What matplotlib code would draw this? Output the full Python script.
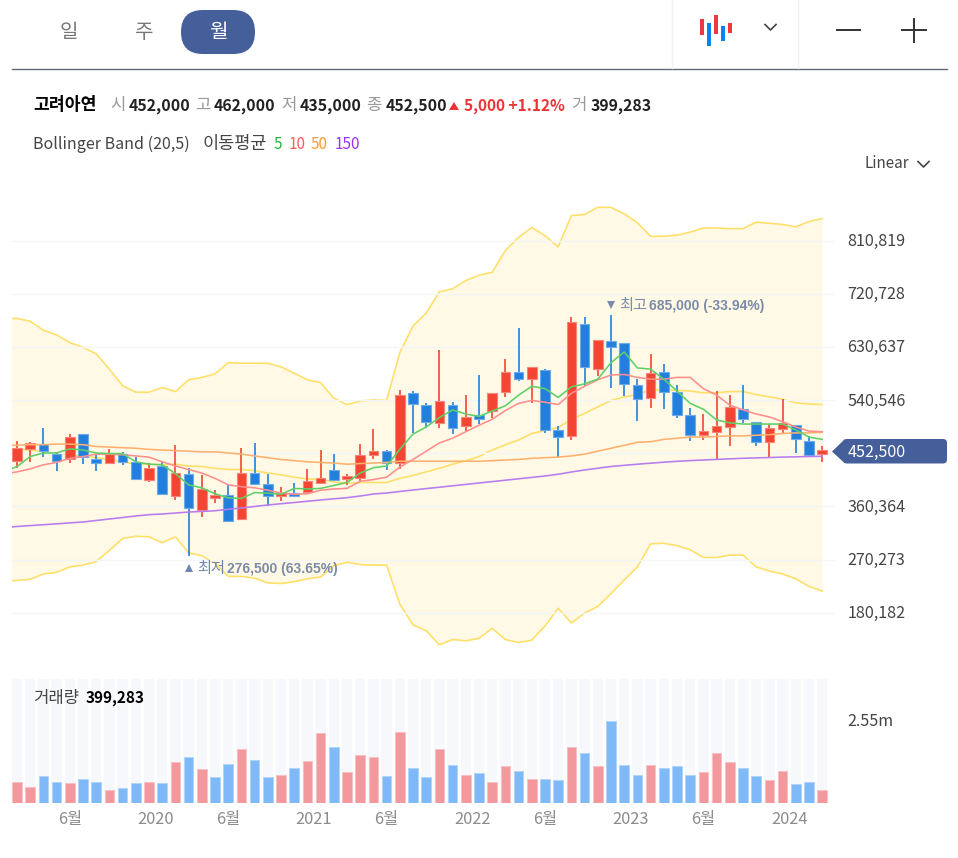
import numpy as np
import matplotlib
matplotlib.use('Agg')
import matplotlib.pyplot as plt
from matplotlib.patches import FancyBboxPatch, Polygon, Rectangle
from matplotlib.transforms import ScaledTranslation

plt.rcParams['font.family'] = ['Noto Sans CJK KR', 'DejaVu Sans']

# prices are in thousands of won
opens = [438, 457, 466, 450, 440, 483, 440, 434, 449, 435, 406, 429, 378, 415, 354, 374, 380, 340, 417, 398, 378,
         384, 385, 400, 422, 408, 408, 448, 454, 434, 552, 532, 501, 532, 497, 515, 522, 554, 588, 576, 592, 490,
         479, 669, 593, 641, 637, 566, 544, 588, 555, 515, 482, 487, 495, 525, 503, 470, 492, 498, 471, 452]
highs = [471, 470, 493, 452, 483, 483, 450, 457, 452, 444, 434, 437, 465, 426, 413, 388, 396, 459, 468, 416, 393,
         401, 424, 456, 450, 415, 466, 492, 456, 557, 556, 536, 625, 537, 549, 583, 553, 610, 662, 596, 594, 497,
         682, 681, 643, 685, 637, 577, 619, 602, 566, 528, 517, 556, 550, 566, 503, 500, 542, 498, 479, 462]
lows = [426, 436, 444, 420, 434, 432, 421, 434, 430, 405, 402, 381, 371, 276.5, 343, 366, 335, 339, 397, 362, 369,
        377, 384, 399, 404, 396, 403, 440, 423, 424, 484, 494, 494, 483, 487, 500, 511, 546, 573, 535, 484, 443,
        473, 564, 581, 561, 547, 506, 527, 525, 511, 472, 473, 440, 463, 501, 462, 444, 484, 451, 448, 435]
closes = [459, 468, 454, 438, 478, 444, 434, 450, 436, 407, 426, 382, 417, 357, 390, 380, 336, 417, 399, 378, 384,
          378, 403, 408, 405, 411, 447, 454, 434, 550, 534, 504, 539, 494, 512, 509, 553, 588, 577, 596, 490, 478,
          673, 597, 643, 631, 567, 543, 587, 555, 515, 482, 489, 497, 529, 508, 470, 494, 501, 475, 448, 452.5]

# volume in thousands of shares
volumes = [654, 491, 829, 654, 614, 737, 654, 399, 451, 614, 654, 614, 1249, 1412, 1044, 789, 1207, 1667, 1329, 789,
           869, 1075, 1289, 2140, 1719, 952, 1464, 1412, 829, 2170, 1075, 789, 1667, 1167, 869, 912, 654, 1127, 992,
           737, 737, 697, 1719, 1544, 1127, 2517, 1167, 869, 1167, 1075, 1127, 869, 952, 1544, 1249, 1075, 829, 697,
           992, 574, 654, 399.283]
vol_up = [1, 1, 0, 0, 1, 0, 0, 1, 0, 0, 1, 0, 1, 0, 1, 0, 0, 1, 0, 0, 1, 0, 1, 1, 0, 1, 1, 1, 0, 1, 0,
          0, 1, 0, 1, 0, 1, 1, 0, 1, 0, 0, 1, 0, 1, 0, 0, 0, 1, 0, 0, 0, 1, 1, 1, 0, 0, 1, 1, 0, 0, 1]

# bands and averages start one month before the first candle
band_upper = [678, 679, 674, 659, 651, 638, 630, 619, 593, 565, 554, 554, 562, 555, 575, 579, 585, 604, 603, 603, 603,
              597, 586, 575, 570, 544, 533, 539, 541, 540, 621, 666, 688, 724, 729, 743, 752, 757, 794, 816, 833, 819,
              800, 853, 855, 867, 867, 856, 841, 818, 818, 820, 825, 832, 832, 831, 831, 842, 840, 838, 834, 843, 848]
band_lower = [234, 235, 237, 246, 249, 258, 261, 267, 286, 306, 310, 309, 299, 309, 282, 277, 264, 242, 242, 239, 231,
              230, 233, 238, 241, 260, 266, 262, 261, 261, 195, 160, 150, 126, 135, 133, 137, 154, 135, 130, 134, 158,
              188, 163, 180, 191, 213, 236, 258, 297, 298, 294, 287, 274, 274, 278, 278, 258, 251, 246, 238, 225, 217]
band_mid = [457, 457, 456, 453, 450, 448, 446, 443, 440, 436, 432, 432, 431, 432, 429, 428, 425, 423, 423, 421, 417,
            414, 410, 407, 406, 402, 400, 401, 401, 401, 408, 413, 419, 425, 432, 438, 445, 456, 465, 473, 484, 489,
            494, 508, 518, 529, 540, 546, 550, 558, 558, 557, 556, 553, 553, 555, 555, 550, 546, 542, 536, 534, 533]
ma5 = [419, 428, 445, 451, 451, 458, 456, 451, 450, 450, 436, 432, 431, 416, 397, 392, 382, 375, 374, 384, 383,
       381, 391, 390, 391, 396, 401, 417, 426, 429, 457, 483, 495, 511, 524, 517, 513, 522, 531, 549, 564, 560,
       545, 563, 568, 576, 604, 622, 595, 593, 576, 556, 535, 525, 507, 502, 500, 500, 500, 500, 490, 478, 474]
ma10 = [416, 419, 424, 431, 435, 442, 445, 449, 449, 448, 446, 444, 436, 429, 423, 417, 408, 397, 394, 392, 388,
        383, 381, 382, 388, 390, 391, 403, 406, 410, 427, 440, 454, 468, 476, 487, 498, 508, 523, 535, 540, 537,
        533, 552, 564, 575, 583, 584, 579, 576, 576, 579, 579, 560, 549, 532, 524, 517, 512, 504, 495, 488, 487]
ma50 = [464, 464, 465, 465, 466, 466, 465, 462, 461, 460, 459, 457, 456, 455, 454, 453, 453, 451, 449, 446, 443,
        440, 438, 436, 435, 434, 432, 433, 434, 435, 437, 437, 437, 437, 437, 437, 437, 438, 439, 440, 442, 443,
        444, 446, 449, 454, 459, 464, 469, 470, 474, 476, 478, 478, 479, 480, 480, 481, 482, 484, 485, 485, 486]
ma150 = [325, 326.5, 328, 329.5, 331, 332.6, 334.1, 336.7, 339.2, 341.7, 344.3, 346.5, 347.7, 349.3, 351, 352, 353.2,
         355.6, 357.8, 360.4, 362.9, 365.1, 367.1, 369.2, 371.4, 373.4, 375.3, 378.1, 381.5, 383.2, 385.8, 388.3,
         390.7, 393, 395.4, 397.8, 400.2, 402.5, 404.9, 407.3, 409.6, 412, 415, 418.8, 422.2, 425.2, 428.1, 430.1,
         432, 433.7, 435.4, 436.9, 438.1, 439.1, 440.1, 441.1, 442, 442.7, 443.3, 444, 444.5, 445, 445.4]

price_ticks = [180182, 270273, 360364, 450455, 540546, 630637, 720728, 810819]
price_labels = ['180,182', '270,273', '360,364', '', '540,546', '630,637', '720,728', '810,819']
time_ticks = [4, 10.5, 16, 22.5, 28, 34.5, 40, 46.5, 52, 58.5]
time_labels = ['6월', '2020', '6월', '2021', '6월', '2022', '6월', '2023', '6월', '2024']

UP = '#f44533'
DOWN = '#2280dc'
NAVY = '#455f9b'
W, H = 958, 858

x = np.arange(len(closes))
xb = np.arange(-1, len(closes))
x_left, x_right = -0.379, 61.97

fig = plt.figure(figsize=(W / 100, H / 100), dpi=100, facecolor='white')


def px_axes(left, top, right, bottom):
    return fig.add_axes([left / W, 1 - bottom / H, (right - left) / W, (bottom - top) / H])


def nudge(labels, dx, dy):
    # shift tick labels by whole pixels
    for lab in labels:
        lab.set_transform(lab.get_transform() + ScaledTranslation(dx / 100, dy / 100, fig.dpi_scale_trans))


# price panel
ax = px_axes(12, 180, 835, 660)
ax.set_xlim(x_left, x_right)
ax.set_ylim(100400, 913300)
for s in ax.spines.values():
    s.set_visible(False)
ax.fill_between(xb, np.array(band_lower) * 1000, np.array(band_upper) * 1000, color='#fff9e5', lw=0, zorder=1)
ax.set_yticks(price_ticks)
ax.set_yticklabels(price_labels, fontsize=11.6, color='#444444')
ax.yaxis.tick_right()
ax.tick_params(axis='y', length=0, pad=9.5)
ax.set_xticks([])
ax.grid(axis='y', color='#f4f5f7', lw=1, zorder=1.5)
ax.set_axisbelow(False)
for line in ax.get_ygridlines():
    line.set_zorder(1.5)
nudge(ax.get_yticklabels(), -1, 1)

for arr in (band_upper, band_lower, band_mid):
    ax.plot(xb, np.array(arr) * 1000, color='#ffdf66', lw=1.15, zorder=2)

min_body = 6000
for i in x:
    o, h, l, c = opens[i] * 1000, highs[i] * 1000, lows[i] * 1000, closes[i] * 1000
    col = UP if c >= o else DOWN
    edge = '#f8857a' if c >= o else '#6cabe8'
    ax.vlines(i, l, h, color=col, lw=1.2, zorder=3)
    lo, ht = min(o, c), abs(c - o)
    if ht < min_body:
        lo, ht = (o + c) / 2 - min_body / 2, min_body
    ax.add_patch(Rectangle((i - 0.37, lo), 0.74, ht, facecolor=col, edgecolor=edge, lw=0.8, zorder=3.1))

ax.plot(xb, np.array(ma150) * 1000, color='#b67cf0', lw=1.15, zorder=4)
ax.plot(xb, np.array(ma50) * 1000, color='#ffb06e', lw=1.15, zorder=4)
ax.plot(xb, np.array(ma10) * 1000, color='#ff8e8e', lw=1.15, zorder=4)
ax.plot(xb, np.array(ma5) * 1000, color='#5fd068', lw=1.15, zorder=4)

# volume panel
vax = px_axes(12, 679, 835, 803)
vax.set_xlim(x_left, x_right)
vol_top = 3806.8
vax.set_ylim(0, vol_top)
for s in vax.spines.values():
    s.set_visible(False)
vax.bar(x, [vol_top] * len(x), width=0.8, color='#f7f8fc', lw=0, zorder=1)
vol_cols = ['#f3999d' if u else '#80b9f8' for u in vol_up]
vol_edges = ['#f8c0c3' if u else '#b0d4fb' for u in vol_up]
vax.bar(x, volumes, width=0.74, color=vol_cols, edgecolor=vol_edges, lw=0.7, zorder=2)
vax.yaxis.tick_right()
vax.set_yticks([2550])
vax.set_yticklabels(['2.55m'], fontsize=11.6, color='#444444')
vax.tick_params(axis='y', length=0, pad=9.5)
vax.set_xticks(time_ticks)
vax.set_xticklabels(time_labels, fontsize=11.8, color='#8c8c8c')
vax.tick_params(axis='x', length=0, pad=6)
nudge(vax.get_yticklabels(), -1, 0)

# overlay in pixel coordinates for the toolbar and legends
ui = fig.add_axes([0, 0, 1, 1], zorder=10)
ui.set_xlim(0, W)
ui.set_ylim(H, 0)
ui.axis('off')


def txt(px, py, s, color='#333333', size=11, weight='normal', ha='left', family=None):
    ui.text(px, py + 1.5, s, color=color, fontsize=size, fontweight=weight, ha=ha, va='center', family=family)


ui.add_patch(FancyBboxPatch((195, 24), 46, 16, boxstyle='round,pad=0,rounding_size=0', lw=0, fc=NAVY))
ui.add_patch(FancyBboxPatch((181 + 22, 10 + 22), 30, 0.01, boxstyle='round,pad=22,rounding_size=22', lw=0, fc=NAVY))
txt(69, 31, '일', color='#777777', size=14.5, ha='center')
txt(144, 31, '주', color='#777777', size=14.5, ha='center')
txt(218, 31, '월', color='white', size=14.5, ha='center')
ui.plot([12, 947], [68.5, 68.5], color='#626873', lw=1)
ui.plot([672.5, 672.5], [0, 68], color='#f0f1f4', lw=1)
ui.plot([798.5, 798.5], [0, 68], color='#f0f1f4', lw=1)
for bx, by, bh, c in [(700, 19, 16, '#ee3a3f'), (707, 23, 23, '#0a84f5'), (714, 15, 18.5, '#ee3a3f'),
                      (721, 25.5, 15, '#0a84f5'), (728, 23, 10, '#ee3a3f')]:
    ui.add_patch(Rectangle((bx, by), 4.2, bh, fc=c, lw=0))
ui.plot([765, 770.5, 776], [24.5, 30, 24.5], color='#444444', lw=1.2)
ui.plot([837, 860], [30, 30], color='#333333', lw=1.4)
ui.plot([902, 926], [30, 30], color='#333333', lw=1.4)
ui.plot([914, 914], [19, 42], color='#333333', lw=1.4)

txt(33, 104, '고려아연', color='black', size=12.4, weight='bold')
for lx, lab, vx, val in [(110, '시', 129, '452,000'), (195, '고', 214, '462,000'), (281, '저', 300, '435,000'),
                         (366, '종', 386, '452,500'), (571, '거', 591, '399,283')]:
    txt(lx, 104, lab, color='#999999', size=12)
    txt(vx, 104, val, color='#222222', size=11.4, weight='bold')
ui.add_patch(Polygon([[449, 110], [459, 110], [454, 102]], fc='#ee3338', lw=0))
txt(464, 104, '5,000 +1.12%', color='#ee3338', size=11.1, weight='bold')

txt(33, 143, 'Bollinger Band (20,5)', color='#444444', size=11.5)
txt(203, 143, '이동평균', color='#444444', size=12.6)
txt(274, 143, '5', color='#22b833', size=11)
txt(289, 143, '10', color='#ff5c5c', size=11)
txt(311, 143, '50', color='#ff9933', size=11)
txt(335, 143, '150', color='#9933ff', size=11)
txt(865, 162, 'Linear', color='#444444', size=11)
ui.plot([918, 923.5, 929], [161.5, 167, 161.5], color='#444444', lw=1.2)

slate = '#7a8bab'
ui.add_patch(Polygon([[607, 301], [615, 301], [611, 309]], fc=slate, lw=0))
txt(619, 304, '최고', color=slate, size=11)
txt(649, 304.5, '685,000 (-33.94%)', color=slate, size=10, weight='bold', family='Liberation Sans')
ui.add_patch(Polygon([[185, 572], [193, 572], [189, 564]], fc='#6f84ae', lw=0))
txt(197, 567, '최저', color='#6f84ae', size=11)
txt(227, 567.5, '276,500 (63.65%)', color=slate, size=10, weight='bold', family='Liberation Sans')

txt(33, 697, '거래량', color='#444444', size=12)
txt(86, 697, '399,283', color='black', size=11, weight='bold')

# last price tag
ui.add_patch(FancyBboxPatch((846, 442), 98, 18.5, boxstyle='round,pad=3,rounding_size=4', lw=0, fc=NAVY))
ui.add_patch(Polygon([[832, 451.5], [845, 439], [845, 463.5]], fc=NAVY, lw=0))
txt(848, 451, '452,500', color='white', size=11.6)

fig.savefig('out.png', dpi=100)
